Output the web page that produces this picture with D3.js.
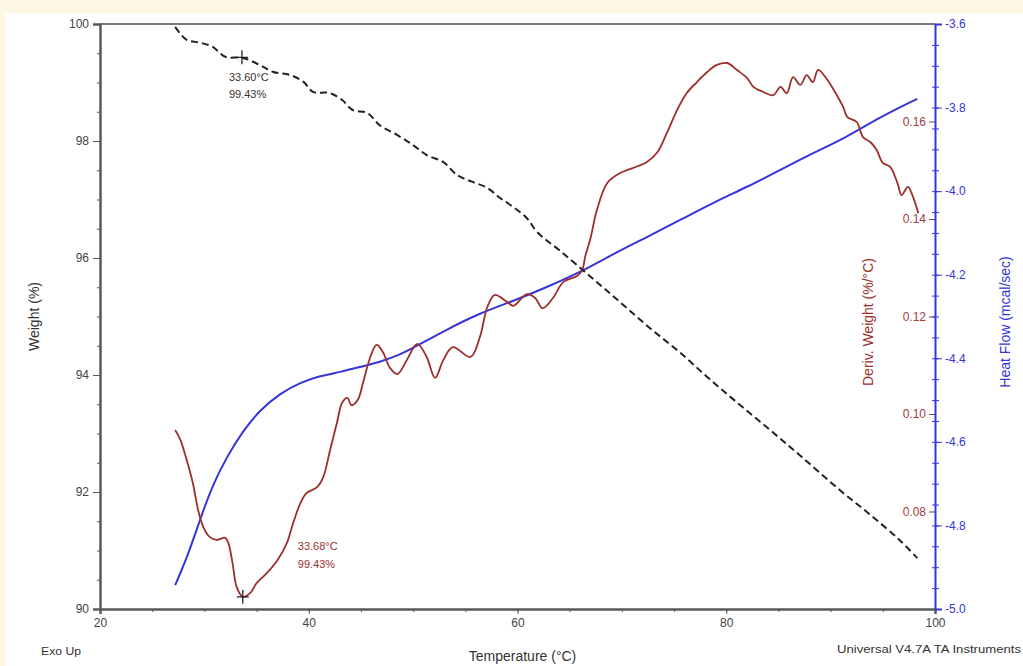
<!DOCTYPE html>
<html>
<head>
<meta charset="utf-8">
<script src="https://cdn.jsdelivr.net/npm/d3@7"></script>
<style>
  html, body { margin: 0; padding: 0; background: #fdf8e4; }
  svg { display: block; font-family: "Liberation Sans", Arial, sans-serif; }
</style>
</head>
<body>
<div id="chart"></div>
<script>
// temperature (°C) / weight (%) — black dashed curve
const weightTemp = [27.2, 28.3, 29.6, 30.8, 32.0, 33.7, 35.3, 36.6, 38.2, 39.5, 40.4, 42.0, 43.2, 44.2, 45.6, 46.8, 48.5, 50.0, 51.3, 52.9, 54.2, 55.7, 57.1, 58.3, 59.6, 60.9, 61.9, 64.1, 67.0, 69.8, 72.7, 75.6, 78.4, 81.3, 84.2, 87.1, 90.9, 93.8, 96.6, 98.3];
const weightVals = [99.95, 99.73, 99.68, 99.61, 99.44, 99.42, 99.30, 99.18, 99.13, 99.01, 98.84, 98.82, 98.70, 98.53, 98.48, 98.27, 98.10, 97.93, 97.76, 97.64, 97.42, 97.30, 97.20, 97.03, 96.87, 96.68, 96.44, 96.12, 95.68, 95.25, 94.80, 94.38, 93.93, 93.49, 93.06, 92.62, 92.03, 91.61, 91.18, 90.87];

// derivative weight (%/°C) — dark red curve
const derivTemp = [27.2, 27.7, 28.3, 28.9, 29.4, 29.9, 30.5, 31.2, 32.0, 32.3, 32.7, 33.1, 33.7, 34.4, 35.0, 36.0, 37.0, 37.9, 38.5, 39.2, 39.8, 40.8, 41.4, 42.0, 42.7, 43.2, 43.7, 44.1, 44.7, 45.2, 45.9, 46.5, 47.1, 47.8, 48.5, 49.4, 50.4, 51.3, 52.1, 52.9, 53.8, 55.5, 56.4, 57.1, 57.8, 59.0, 59.6, 60.9, 61.7, 62.4, 63.4, 64.4, 65.7, 66.2, 66.5, 67.0, 67.6, 68.6, 69.8, 71.1, 72.4, 73.4, 74.3, 75.3, 76.2, 77.2, 78.2, 79.1, 80.1, 81.0, 82.0, 82.6, 83.5, 84.5, 85.2, 85.8, 86.4, 87.1, 87.7, 88.3, 88.8, 89.7, 90.4, 91.2, 91.6, 92.5, 93.1, 93.8, 94.4, 95.0, 95.7, 96.4, 96.8, 97.4, 97.9, 98.4];
const derivVals = [0.0967, 0.0947, 0.0906, 0.0858, 0.0803, 0.0768, 0.0748, 0.0742, 0.0746, 0.0735, 0.0694, 0.0645, 0.0625, 0.0633, 0.0653, 0.0674, 0.0700, 0.0735, 0.0776, 0.0817, 0.0838, 0.0850, 0.0871, 0.0922, 0.0982, 0.1023, 0.1033, 0.1018, 0.1029, 0.1064, 0.1117, 0.1142, 0.1127, 0.1094, 0.1082, 0.1111, 0.1144, 0.1117, 0.1074, 0.1111, 0.1137, 0.1117, 0.1158, 0.1219, 0.1244, 0.1230, 0.1222, 0.1246, 0.1238, 0.1217, 0.1238, 0.1271, 0.1283, 0.1295, 0.1324, 0.1361, 0.1418, 0.1474, 0.1494, 0.1505, 0.1517, 0.1537, 0.1576, 0.1624, 0.1658, 0.1681, 0.1702, 0.1716, 0.1720, 0.1706, 0.1689, 0.1671, 0.1661, 0.1654, 0.1671, 0.1658, 0.1691, 0.1675, 0.1695, 0.1681, 0.1706, 0.1685, 0.1661, 0.1630, 0.1609, 0.1599, 0.1568, 0.1558, 0.1542, 0.1515, 0.1507, 0.1474, 0.1449, 0.1466, 0.1445, 0.1412];

// heat flow (mcal/sec) — blue curve
const heatTemp = [27.2, 28.3, 29.6, 30.8, 32.2, 33.7, 35.3, 37.3, 39.2, 41.1, 43.0, 44.9, 46.8, 48.7, 50.0, 53.3, 56.4, 59.6, 62.8, 66.0, 69.2, 72.4, 75.6, 78.7, 82.0, 85.2, 88.3, 91.6, 94.7, 98.3];
const heatVals = [-4.943, -4.880, -4.785, -4.702, -4.634, -4.574, -4.524, -4.483, -4.458, -4.442, -4.433, -4.421, -4.409, -4.392, -4.375, -4.330, -4.292, -4.263, -4.230, -4.194, -4.150, -4.110, -4.069, -4.028, -3.990, -3.949, -3.909, -3.870, -3.823, -3.779];

const tempTicks = [20, 40, 60, 80, 100];
const weightTicks = [90, 92, 94, 96, 98, 100];
const derivTicks = [0.08, 0.10, 0.12, 0.14, 0.16];
const heatTicks = [-5.0, -4.8, -4.6, -4.4, -4.2, -4.0, -3.8, -3.6];

const weightMark = { t: 33.60, w: 99.43, label: ["33.60°C", "99.43%"] };
const derivMark = { t: 33.68, d: 0.0625, label: ["33.68°C", "99.43%"] };

const W = 1023, H = 666;
const margin = { top: 24, right: 88, bottom: 57, left: 100 };
const iw = W - margin.left - margin.right;
const ih = H - margin.top - margin.bottom;

const red = "#9c2f2c", redText = "#a0413e", blue = "#3535d8", axisGray = "#5a5a5a", textGray = "#444";

const svg = d3.select("#chart").append("svg")
  .attr("width", W)
  .attr("height", H);

// white page area inside the cream border
svg.append("rect")
  .attr("x", 5).attr("y", 13)
  .attr("width", W - 5).attr("height", H - 13)
  .attr("fill", "#ffffff");

const g = svg.append("g")
  .attr("transform", `translate(${margin.left},${margin.top})`);

const x = d3.scaleLinear().domain([20, 100]).range([0, iw]);
const yW = d3.scaleLinear().domain([90, 100]).range([ih, 0]);
const yD = d3.scaleLinear().domain([0.06, 0.18]).range([ih, 0]);
const yH = d3.scaleLinear().domain([-5.0, -3.6]).range([ih, 0]);

// top frame line
g.append("line")
  .attr("x1", 0).attr("x2", iw)
  .attr("y1", 0).attr("y2", 0)
  .attr("stroke", "#777").attr("stroke-width", 2);

// minor ticks
g.append("g")
  .attr("transform", `translate(0,${ih})`)
  .call(d3.axisBottom(x).tickValues(d3.range(25, 100, 5)).tickSize(3).tickFormat(""))
  .call(a => a.select(".domain").remove())
  .call(a => a.selectAll("line").attr("stroke", axisGray));

g.append("g")
  .call(d3.axisLeft(yW).tickValues(d3.range(90.5, 100, 0.5)).tickSize(3).tickFormat(""))
  .call(a => a.select(".domain").remove())
  .call(a => a.selectAll("line").attr("stroke", axisGray));

// bottom axis
const xAxis = g.append("g")
  .attr("transform", `translate(0,${ih})`)
  .call(d3.axisBottom(x).tickValues(tempTicks).tickSize(5).tickPadding(4).tickFormat(d3.format("d")));
xAxis.select(".domain").attr("stroke", axisGray).attr("stroke-width", 2.5);
xAxis.selectAll("line").attr("stroke", axisGray);
xAxis.selectAll("text").attr("fill", textGray).style("font-size", "12px");

// left axis
const yAxis = g.append("g")
  .call(d3.axisLeft(yW).tickValues(weightTicks).tickSize(7).tickPadding(4).tickFormat(d3.format("d")));
yAxis.select(".domain").attr("stroke", axisGray).attr("stroke-width", 2.5);
yAxis.selectAll("line").attr("stroke", axisGray);
yAxis.selectAll("text").attr("fill", textGray).style("font-size", "12px");

// deriv weight ticks sit on the left side of the right axis line
const dAxis = g.append("g")
  .attr("transform", `translate(${iw},0)`)
  .call(d3.axisLeft(yD).tickValues(derivTicks).tickSize(6).tickPadding(3).tickFormat(d3.format(".2f")));
dAxis.select(".domain").remove();
dAxis.selectAll("line").attr("stroke", "#6a4a4a");
dAxis.selectAll("text").attr("fill", redText).style("font-size", "12px");

// heat flow minor ticks
g.append("g")
  .attr("transform", `translate(${iw},0)`)
  .call(d3.axisRight(yH).tickValues(d3.range(-4.95, -3.6, 0.05)).tickSize(4).tickFormat(""))
  .call(a => a.select(".domain").remove())
  .call(a => a.selectAll("line").attr("stroke", blue).attr("x1", -3));

// heat flow axis
const hAxis = g.append("g")
  .attr("transform", `translate(${iw},0)`)
  .call(d3.axisRight(yH).tickValues(heatTicks).tickSize(7).tickPadding(3).tickFormat(d => d.toFixed(1)));
hAxis.select(".domain").attr("stroke", blue).attr("stroke-width", 2);
hAxis.selectAll("line").attr("stroke", blue);
hAxis.selectAll("text").attr("fill", blue).style("font-size", "12px");

// curves
const lineW = d3.line().x(d => x(d[0])).y(d => yW(d[1])).curve(d3.curveCatmullRom);
const lineD = d3.line().x(d => x(d[0])).y(d => yD(d[1])).curve(d3.curveCatmullRom);
const lineH = d3.line().x(d => x(d[0])).y(d => yH(d[1])).curve(d3.curveBasis);

g.append("path")
  .datum(d3.zip(heatTemp, heatVals))
  .attr("fill", "none")
  .attr("stroke", blue)
  .attr("stroke-width", 2)
  .attr("d", lineH);

g.append("path")
  .datum(d3.zip(derivTemp, derivVals))
  .attr("fill", "none")
  .attr("stroke", red)
  .attr("stroke-width", 1.8)
  .attr("d", lineD);

g.append("path")
  .datum(d3.zip(weightTemp, weightVals))
  .attr("fill", "none")
  .attr("stroke", "#222")
  .attr("stroke-width", 2)
  .attr("stroke-dasharray", "7,4")
  .attr("d", lineW);

// markers and their labels
function cross(cx, cy, color) {
  g.append("path")
    .attr("d", `M${cx - 6},${cy}H${cx + 6}M${cx},${cy - 7}V${cy + 7}`)
    .attr("stroke", color)
    .attr("stroke-width", 1.3);
}

cross(x(weightMark.t), yW(weightMark.w), "#222");
weightMark.label.forEach((s, i) => {
  g.append("text")
    .attr("x", x(weightMark.t) - 13)
    .attr("y", yW(weightMark.w) + 24 + i * 17)
    .attr("fill", "#333")
    .style("font-size", "11px")
    .text(s);
});

cross(x(derivMark.t), yD(derivMark.d), "#222");
derivMark.label.forEach((s, i) => {
  g.append("text")
    .attr("x", x(derivMark.t) + 55)
    .attr("y", yD(derivMark.d) - 47 + i * 18)
    .attr("fill", red)
    .style("font-size", "11px")
    .text(s);
});

// axis titles
svg.append("text")
  .attr("transform", `translate(39,${margin.top + ih / 2}) rotate(-90)`)
  .attr("text-anchor", "middle")
  .attr("fill", "#333")
  .style("font-size", "14px")
  .text("Weight (%)");

svg.append("text")
  .attr("x", margin.left + iw / 2 + 5)
  .attr("y", H - 5)
  .attr("text-anchor", "middle")
  .attr("fill", "#333")
  .style("font-size", "14px")
  .text("Temperature (°C)");

svg.append("text")
  .attr("transform", `translate(873,322) rotate(-90)`)
  .attr("text-anchor", "middle")
  .attr("fill", red)
  .style("font-size", "14px")
  .text("Deriv. Weight (%/°C)");

svg.append("text")
  .attr("transform", `translate(1010,322) rotate(-90)`)
  .attr("text-anchor", "middle")
  .attr("fill", blue)
  .style("font-size", "14px")
  .text("Heat Flow (mcal/sec)");

svg.append("text")
  .attr("x", 41).attr("y", 655)
  .attr("fill", "#333")
  .attr("textLength", 40)
  .attr("lengthAdjust", "spacingAndGlyphs")
  .style("font-size", "10px")
  .text("Exo Up");

svg.append("text")
  .attr("x", 837).attr("y", 653)
  .attr("fill", "#333")
  .attr("textLength", 184)
  .attr("lengthAdjust", "spacingAndGlyphs")
  .style("font-size", "10px")
  .text("Universal V4.7A TA Instruments");
</script>
</body>
</html>
